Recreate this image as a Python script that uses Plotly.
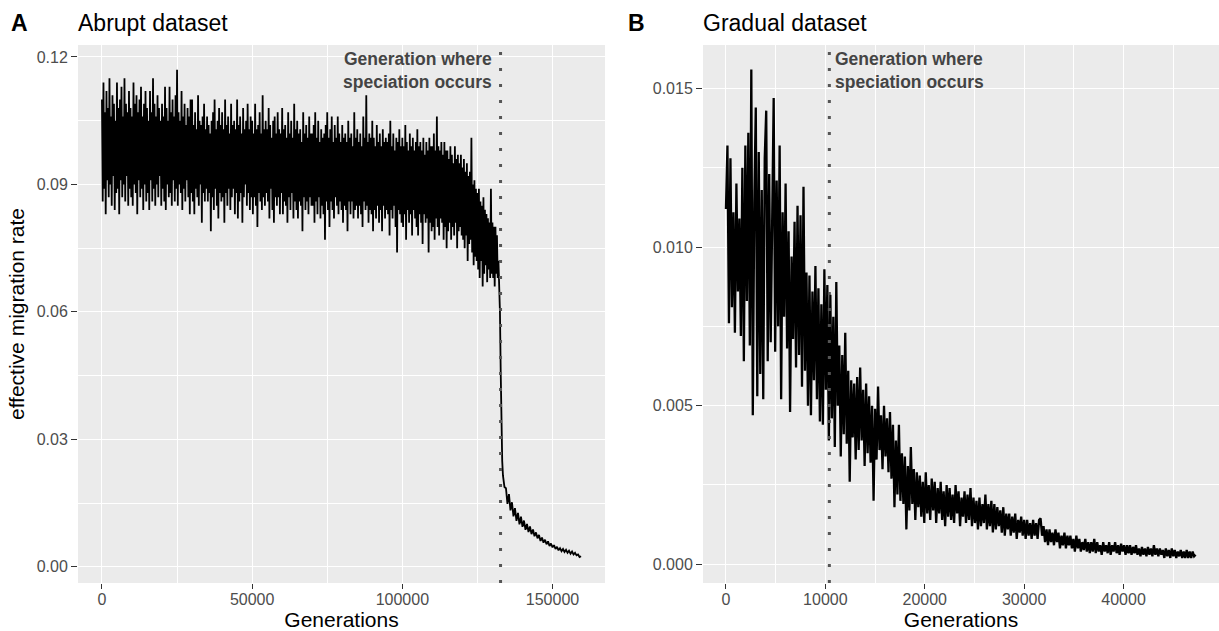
import plotly.graph_objects as go

# ---------------- data ----------------
# Panel A: abrupt dataset.  Every 250 generations up to 134000, then every 500.
gen_step_a_dense = 250
gen_end_a_dense = 134000
gen_step_a_tail = 500
mig_a_dense = [
    0.110, 0.086, 0.114, 0.089, 0.107, 0.083, 0.112, 0.091, 0.108, 0.087, 0.115, 0.090, 0.106, 0.085, 0.111, 0.092, 0.109, 0.084, 0.105, 0.088,
    0.114, 0.089, 0.108, 0.083, 0.110, 0.091, 0.113, 0.087, 0.106, 0.090, 0.115, 0.086, 0.109, 0.092, 0.107, 0.085, 0.112, 0.089, 0.108, 0.087,
    0.106, 0.085, 0.114, 0.090, 0.109, 0.088, 0.111, 0.083, 0.107, 0.091, 0.110, 0.087, 0.113, 0.089, 0.106, 0.084, 0.109, 0.090, 0.112, 0.086,
    0.108, 0.088, 0.105, 0.084, 0.112, 0.091, 0.107, 0.086, 0.115, 0.089, 0.109, 0.085, 0.106, 0.090, 0.111, 0.087, 0.108, 0.092, 0.105, 0.085,
    0.109, 0.089, 0.106, 0.086, 0.113, 0.084, 0.108, 0.090, 0.105, 0.087, 0.113, 0.088, 0.107, 0.085, 0.110, 0.091, 0.106, 0.086, 0.111, 0.089,
    0.117, 0.085, 0.107, 0.090, 0.105, 0.088, 0.112, 0.084, 0.106, 0.089, 0.109, 0.086, 0.104, 0.091, 0.108, 0.087, 0.106, 0.083, 0.110, 0.088,
    0.110, 0.086, 0.104, 0.083, 0.107, 0.089, 0.103, 0.087, 0.111, 0.085, 0.105, 0.090, 0.104, 0.081, 0.106, 0.088, 0.109, 0.086, 0.103, 0.089,
    0.106, 0.086, 0.104, 0.088, 0.102, 0.079, 0.105, 0.087, 0.107, 0.084, 0.110, 0.089, 0.103, 0.085, 0.105, 0.082, 0.108, 0.088, 0.104, 0.086,
    0.107, 0.087, 0.103, 0.081, 0.110, 0.088, 0.104, 0.085, 0.106, 0.089, 0.102, 0.084, 0.109, 0.087, 0.104, 0.089, 0.105, 0.083, 0.103, 0.088,
    0.110, 0.082, 0.104, 0.086, 0.106, 0.088, 0.102, 0.081, 0.108, 0.087, 0.103, 0.090, 0.105, 0.085, 0.109, 0.088, 0.103, 0.084, 0.106, 0.087,
    0.105, 0.083, 0.102, 0.087, 0.109, 0.085, 0.103, 0.080, 0.104, 0.088, 0.107, 0.086, 0.102, 0.084, 0.111, 0.087, 0.103, 0.085, 0.105, 0.088,
    0.103, 0.086, 0.108, 0.082, 0.104, 0.089, 0.101, 0.084, 0.105, 0.081, 0.106, 0.087, 0.102, 0.085, 0.107, 0.087, 0.103, 0.083, 0.102, 0.088,
    0.108, 0.083, 0.103, 0.086, 0.104, 0.085, 0.101, 0.081, 0.107, 0.087, 0.102, 0.084, 0.105, 0.088, 0.101, 0.082, 0.109, 0.086, 0.103, 0.084,
    0.105, 0.082, 0.102, 0.086, 0.103, 0.085, 0.100, 0.079, 0.107, 0.087, 0.102, 0.084, 0.104, 0.086, 0.101, 0.083, 0.106, 0.087, 0.102, 0.085,
    0.102, 0.085, 0.104, 0.081, 0.107, 0.086, 0.101, 0.083, 0.105, 0.087, 0.100, 0.082, 0.103, 0.085, 0.101, 0.083, 0.102, 0.077, 0.104, 0.086,
    0.107, 0.084, 0.101, 0.080, 0.103, 0.086, 0.106, 0.084, 0.100, 0.082, 0.104, 0.087, 0.101, 0.085, 0.106, 0.083, 0.102, 0.086, 0.100, 0.084,
    0.104, 0.081, 0.101, 0.085, 0.102, 0.084, 0.100, 0.079, 0.105, 0.086, 0.101, 0.083, 0.102, 0.086, 0.099, 0.082, 0.107, 0.084, 0.101, 0.085,
    0.103, 0.082, 0.100, 0.085, 0.102, 0.083, 0.099, 0.080, 0.106, 0.086, 0.101, 0.084, 0.111, 0.085, 0.100, 0.081, 0.102, 0.084, 0.101, 0.083,
    0.105, 0.079, 0.101, 0.084, 0.099, 0.082, 0.104, 0.085, 0.100, 0.081, 0.102, 0.084, 0.099, 0.079, 0.103, 0.085, 0.100, 0.082, 0.101, 0.084,
    0.100, 0.083, 0.102, 0.078, 0.105, 0.084, 0.099, 0.082, 0.102, 0.085, 0.098, 0.080, 0.101, 0.074, 0.100, 0.084, 0.103, 0.083, 0.099, 0.081,
    0.101, 0.080, 0.099, 0.083, 0.104, 0.077, 0.100, 0.084, 0.098, 0.081, 0.102, 0.083, 0.099, 0.078, 0.101, 0.084, 0.098, 0.082, 0.100, 0.080,
    0.103, 0.078, 0.099, 0.083, 0.100, 0.081, 0.098, 0.076, 0.101, 0.083, 0.097, 0.081, 0.100, 0.082, 0.098, 0.074, 0.101, 0.081, 0.099, 0.079,
    0.099, 0.080, 0.102, 0.077, 0.098, 0.082, 0.106, 0.080, 0.099, 0.078, 0.098, 0.082, 0.100, 0.081, 0.097, 0.077, 0.100, 0.080, 0.098, 0.075,
    0.098, 0.079, 0.096, 0.081, 0.099, 0.077, 0.097, 0.080, 0.095, 0.078, 0.099, 0.081, 0.096, 0.075, 0.097, 0.079, 0.095, 0.080, 0.097, 0.078,
    0.094, 0.077, 0.096, 0.075, 0.093, 0.078, 0.095, 0.072, 0.092, 0.076, 0.093, 0.077, 0.101, 0.074, 0.090, 0.071, 0.091, 0.073, 0.089, 0.072,
    0.088, 0.070, 0.089, 0.068, 0.086, 0.072, 0.085, 0.066, 0.087, 0.069, 0.084, 0.071, 0.083, 0.067, 0.082, 0.070, 0.081, 0.068, 0.089, 0.069,
    0.081, 0.068, 0.080, 0.066, 0.080, 0.069, 0.078, 0.068,
    0.072, 0.068, 0.060, 0.046, 0.033, 0.025, 0.0215, 0.0200, 0.0188,
]
mig_a_tail = [
    0.0185, 0.0148, 0.0171, 0.0133, 0.0152, 0.0119, 0.0138, 0.0108, 0.0127, 0.0100,
    0.0118, 0.0094, 0.0109, 0.0087, 0.0101, 0.0082, 0.0095, 0.0077, 0.0088, 0.0072,
    0.0081, 0.0067, 0.0075, 0.0061, 0.0069, 0.0057, 0.0064, 0.0053, 0.0060, 0.0049,
    0.0055, 0.0046, 0.0051, 0.0042, 0.0047, 0.0039, 0.0044, 0.0037, 0.0042, 0.0035,
    0.0040, 0.0033, 0.0038, 0.0031, 0.0036, 0.0029, 0.0033, 0.0027, 0.0029, 0.0023,
    0.0025,
]
gen_a = ([i * gen_step_a_dense for i in range(len(mig_a_dense))]
         + [gen_end_a_dense + (i + 1) * gen_step_a_tail for i in range(len(mig_a_tail))])
mig_a = mig_a_dense + mig_a_tail
speciation_a = 132700

# Panel B: gradual dataset, sampled every 150 generations
gen_step_b = 150
mig_b = [
    0.0112, 0.0132, 0.0076, 0.0128, 0.0081, 0.0111, 0.0073, 0.0120, 0.0086, 0.0109,
    0.0072, 0.0125, 0.0064, 0.0132, 0.0083, 0.0136, 0.0069, 0.0156, 0.0047, 0.0114,
    0.0144, 0.0053, 0.0130, 0.0060, 0.0118, 0.0052, 0.0128, 0.0143, 0.0064, 0.0123,
    0.0070, 0.0116, 0.0147, 0.0067, 0.0121, 0.0075, 0.0132, 0.0052, 0.0111, 0.0078,
    0.0120, 0.0068, 0.0105, 0.0048, 0.0097, 0.0071, 0.0108, 0.0062, 0.0113, 0.0066,
    0.0110, 0.0056, 0.0119, 0.0061, 0.0092, 0.0050, 0.0091, 0.0047, 0.0086, 0.0058,
    0.0094, 0.0052, 0.0087, 0.0045, 0.0082, 0.0044, 0.0093, 0.0055, 0.0088, 0.0039,
    0.0085, 0.0046, 0.0078, 0.0037, 0.0089, 0.0050, 0.0069, 0.0034, 0.0066, 0.0041,
    0.0073, 0.0038, 0.0061, 0.0026, 0.0058, 0.0040, 0.0057, 0.0033, 0.0059, 0.0036,
    0.0062, 0.0039, 0.0055, 0.0031, 0.0057, 0.0035, 0.0053, 0.0032, 0.0050, 0.0020,
    0.0049, 0.0033, 0.0056, 0.0036, 0.0047, 0.0030, 0.0050, 0.0034, 0.0046, 0.0029,
    0.0048, 0.0027, 0.0044, 0.0018, 0.0039, 0.0022, 0.0044, 0.0020, 0.0035, 0.0019,
    0.0034, 0.0011, 0.0031, 0.0017, 0.0037, 0.0019, 0.0030, 0.0014, 0.0029, 0.0018,
    0.0028, 0.0015, 0.0026, 0.0013, 0.0029, 0.0016, 0.0025, 0.0014, 0.0027, 0.0017,
    0.0026, 0.0013, 0.0024, 0.0016, 0.0026, 0.0014, 0.0023, 0.0012, 0.0025, 0.0015,
    0.0024, 0.0014, 0.0022, 0.0013, 0.0025, 0.0016, 0.0023, 0.0012, 0.0021, 0.0015,
    0.0023, 0.0013, 0.0022, 0.0014, 0.0024, 0.0012, 0.0021, 0.0013, 0.0020, 0.0011,
    0.0021, 0.0012, 0.0019, 0.0013, 0.0022, 0.0011, 0.0019, 0.0012, 0.0020, 0.0010,
    0.0019, 0.0011, 0.0018, 0.0012, 0.0017, 0.0010, 0.0018, 0.0009, 0.0016, 0.0011,
    0.0016, 0.0009, 0.0015, 0.0010, 0.0016, 0.0008, 0.0014, 0.0010, 0.0015, 0.0009,
    0.0014, 0.0008, 0.0014, 0.0009, 0.0013, 0.0008, 0.0014, 0.0009, 0.0013, 0.0008,
    0.0014, 0.00145, 0.0009, 0.0012, 0.0007, 0.0011, 0.0006, 0.0011, 0.0007, 0.0010,
    0.0006, 0.0011, 0.0007, 0.0010, 0.0005, 0.0009, 0.0006, 0.0010, 0.0005, 0.0009,
    0.0006, 0.0009, 0.0005, 0.0008, 0.0004, 0.0009, 0.0005, 0.0008, 0.0004, 0.0007,
    0.00045, 0.0008, 0.0004, 0.0007, 0.00035, 0.0007, 0.0004, 0.0008, 0.00035, 0.0007,
    0.0004, 0.0006, 0.0003, 0.0007, 0.0004, 0.0006, 0.00035, 0.0007, 0.0003, 0.0006,
    0.0004, 0.0007, 0.00035, 0.0006, 0.0003, 0.00065, 0.0004, 0.0006, 0.0003, 0.0006,
    0.00035, 0.0006, 0.0003, 0.00055, 0.00035, 0.0006, 0.0003, 0.0005, 0.00025, 0.00055,
    0.0003, 0.0005, 0.00025, 0.00055, 0.0003, 0.0005, 0.00025, 0.0006, 0.0003, 0.0005,
    0.00025, 0.0005, 0.0003, 0.00045, 0.0002, 0.0005, 0.00025, 0.00045, 0.0002, 0.0005,
    0.00025, 0.00045, 0.0002, 0.0004, 0.00025, 0.00045, 0.0002, 0.0004, 0.0002, 0.00045,
    0.0002, 0.0004, 0.0002, 0.0004, 0.00025, 0.0003,
]
gen_b = [i * gen_step_b for i in range(len(mig_b))]
speciation_b = 10400

ticks_x_a = [0, 50000, 100000, 150000]
minor_x_a = [25000, 75000, 125000]
ticks_y_a = [0.0, 0.03, 0.06, 0.09, 0.12]
labels_y_a = ["0.00", "0.03", "0.06", "0.09", "0.12"]
minor_y_a = [0.015, 0.045, 0.075, 0.105]

ticks_x_b = [0, 10000, 20000, 30000, 40000]
minor_x_b = [5000, 15000, 25000, 35000, 45000]
ticks_y_b = [0.0, 0.005, 0.010, 0.015]
labels_y_b = ["0.000", "0.005", "0.010", "0.015"]
minor_y_b = [0.0025, 0.0075, 0.0125]

annot_text = "Generation where<br>speciation occurs"

# ---------------- figure ----------------
W, H = 1219, 631
FONT = "Liberation Sans, Arial, sans-serif"
GREY_TXT = "#4D4D4D"
TICK_SIZE = 16
AXTITLE_SIZE = 21
TITLE_SIZE = 23

fig = go.Figure()
fig.add_trace(go.Scatter(x=gen_a, y=mig_a, mode="lines",
                         line=dict(color="black", width=1.8),
                         xaxis="x", yaxis="y", showlegend=False, hoverinfo="skip"))
fig.add_trace(go.Scatter(x=gen_b, y=mig_b, mode="lines",
                         line=dict(color="black", width=2.3),
                         xaxis="x2", yaxis="y2", showlegend=False, hoverinfo="skip"))

ydom = [1 - 583 / H, 1 - 45 / H]


def ax_common(**kw):
    d = dict(showline=False, zeroline=False, showgrid=True, gridcolor="white",
             gridwidth=1.1, ticks="outside", ticklen=6, tickwidth=1.1,
             tickcolor="#333333", automargin=False,
             tickfont=dict(family=FONT, size=TICK_SIZE, color=GREY_TXT))
    d.update(kw)
    return d


minor_style = dict(showgrid=True, gridcolor="white", gridwidth=0.55, ticks="")
title_font = dict(size=AXTITLE_SIZE, family=FONT, color="black")

fig.update_layout(
    width=W, height=H,
    margin=dict(l=0, r=0, t=0, b=0),
    paper_bgcolor="white", plot_bgcolor="#EBEBEB",
    font=dict(family=FONT, color="black"),
    showlegend=False,
    xaxis=ax_common(domain=[78 / W, 605 / W], range=[-7975, 167475], ticklen=5,
                    ticklabelstandoff=-3,
                    tickvals=ticks_x_a, ticktext=[str(v) for v in ticks_x_a],
                    minor=dict(tickvals=minor_x_a, **minor_style),
                    title=dict(text="Generations", font=title_font, standoff=5),
                    anchor="y"),
    yaxis=ax_common(domain=ydom, range=[-0.0038, 0.1228],
                    tickvals=ticks_y_a, ticktext=labels_y_a,
                    minor=dict(tickvals=minor_y_a, **minor_style),
                    title=dict(text="effective migration rate", font=title_font, standoff=6),
                    anchor="x"),
    xaxis2=ax_common(domain=[703 / W, 1.0], range=[-2310, 49600], ticklen=5,
                     ticklabelstandoff=-3,
                     tickvals=ticks_x_b, ticktext=[str(v) for v in ticks_x_b],
                     minor=dict(tickvals=minor_x_b, **minor_style),
                     title=dict(text="Generations", font=title_font, standoff=5),
                     anchor="y2"),
    yaxis2=ax_common(domain=ydom, range=[-0.00059, 0.01637],
                     tickvals=ticks_y_b, ticktext=labels_y_b,
                     minor=dict(tickvals=minor_y_b, **minor_style),
                     anchor="x2"),
)

# speciation lines
for xr, yr, xv in (("x", "y domain", speciation_a), ("x2", "y2 domain", speciation_b)):
    fig.add_shape(type="line", xref=xr, yref=yr, x0=xv, x1=xv, y0=0, y1=1,
                  line=dict(color="#555555", width=3, dash="3px,13px"), layer="above")

# speciation labels
annot_font = dict(family=FONT, size=17.5, color="#444444", weight="bold")
fig.add_annotation(xref="x", yref="y domain", x=speciation_a, y=1, xanchor="right",
                   yanchor="top", xshift=-7, yshift=-2, text=annot_text, align="right",
                   showarrow=False, font=annot_font)
fig.add_annotation(xref="x2", yref="y2 domain", x=speciation_b, y=1, xanchor="left",
                   yanchor="top", xshift=4, yshift=-2, text=annot_text, align="left",
                   showarrow=False, font=annot_font)

# panel tags and titles
for tag, tx, title, ttx in (("A", 9, "Abrupt dataset", 76), ("B", 626, "Gradual dataset", 701)):
    fig.add_annotation(xref="paper", yref="paper", x=tx / W, y=1 - 23 / H, xanchor="left",
                       yanchor="middle", text="<b>%s</b>" % tag, showarrow=False,
                       font=dict(family=FONT, size=TITLE_SIZE, color="black"))
    fig.add_annotation(xref="paper", yref="paper", x=ttx / W, y=1 - 23 / H, xanchor="left",
                       yanchor="middle", text=title, showarrow=False,
                       font=dict(family=FONT, size=TITLE_SIZE, color="black"))

# remove the default page margin so the figure sits at the window's top-left corner
fig.write_html("out.html", config={"displayModeBar": False},
               post_script="document.body.style.margin='0';document.body.style.overflow='hidden';")
